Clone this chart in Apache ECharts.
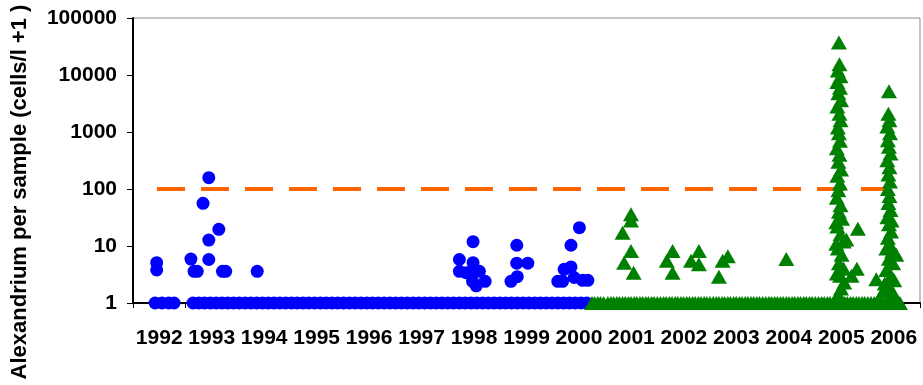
<!DOCTYPE html>
<html>
<head>
<meta charset="utf-8">
<script src="https://cdn.jsdelivr.net/npm/echarts@6/dist/echarts.min.js"></script>
<style>
  html, body { margin: 0; padding: 0; background: #fff; }
  #chart { width: 923px; height: 385px; }
</style>
</head>
<body>
<div id="chart"></div>
<script>
const years = ['1992', '1993', '1994', '1995', '1996', '1997', '1998', '1999',
  '2000', '2001', '2002', '2003', '2004', '2005', '2006'];
const yTicks = [1, 10, 100, 1000, 10000, 100000];
const threshold = 100;
const thresholdSpan = [1992.456, 2006.29];

// samples with no cells (plotted as 0 + 1)
const blueZeroDates = [
  1992.42, 1992.55, 1992.68, 1992.78,
  1993.14, 1993.25, 1993.36, 1993.47, 1993.58, 1993.69, 1993.80, 1993.91,
  1994.02, 1994.13, 1994.24, 1994.35, 1994.46, 1994.57, 1994.68, 1994.79, 1994.90,
  1995.01, 1995.12, 1995.23, 1995.34, 1995.45, 1995.56, 1995.67, 1995.78, 1995.89,
  1996.00, 1996.11, 1996.22, 1996.33, 1996.44, 1996.55, 1996.66, 1996.77, 1996.88, 1996.99,
  1997.10, 1997.21, 1997.32, 1997.43, 1997.54, 1997.65, 1997.76, 1997.87, 1997.98,
  1998.09, 1998.20, 1998.31, 1998.42, 1998.53, 1998.64, 1998.75, 1998.86, 1998.97,
  1999.08, 1999.19, 1999.30, 1999.41, 1999.52, 1999.63, 1999.74, 1999.85, 1999.96,
  2000.07, 2000.18, 2000.29, 2000.40, 2000.51, 2000.62
];
const greenZeroDates = [
  2000.72, 2000.77, 2000.83, 2000.88, 2000.94,
  2001.02, 2001.08, 2001.13, 2001.19, 2001.24, 2001.30, 2001.35, 2001.41, 2001.46,
  2001.52, 2001.57, 2001.63, 2001.68, 2001.74, 2001.79, 2001.85, 2001.90, 2001.96,
  2002.02, 2002.08, 2002.13, 2002.19, 2002.24, 2002.30, 2002.35, 2002.41, 2002.46,
  2002.52, 2002.57, 2002.63, 2002.68, 2002.74, 2002.79, 2002.85, 2002.90, 2002.96,
  2003.02, 2003.08, 2003.13, 2003.19, 2003.24, 2003.30, 2003.35, 2003.41, 2003.46,
  2003.52, 2003.57, 2003.63, 2003.68, 2003.74, 2003.79, 2003.85, 2003.90, 2003.96,
  2004.02, 2004.08, 2004.13, 2004.19, 2004.24, 2004.30, 2004.35, 2004.41, 2004.46,
  2004.52, 2004.57, 2004.63, 2004.68, 2004.74, 2004.79, 2004.85, 2004.90, 2004.96,
  2005.02, 2005.08, 2005.13, 2005.19, 2005.24, 2005.30, 2005.35, 2005.41, 2005.46,
  2005.52, 2005.57, 2005.63, 2005.68, 2005.74, 2005.79, 2005.85, 2005.90, 2005.96,
  2006.02, 2006.08, 2006.13, 2006.19, 2006.24, 2006.30, 2006.35, 2006.41, 2006.46,
  2006.52, 2006.57
];

// positive samples, 1992-2000 (blue circles)
const bluePositive = [
  [1992.45, 5.1], [1992.45, 3.8],
  [1993.10, 5.9], [1993.16, 3.6], [1993.22, 3.6], [1993.33, 56], [1993.44, 158],
  [1993.44, 12.7], [1993.44, 5.8], [1993.63, 19.6], [1993.70, 3.6], [1993.76, 3.6],
  [1994.36, 3.6],
  [1998.20, 5.8], [1998.20, 3.6], [1998.33, 3.4], [1998.46, 11.9], [1998.46, 5.1],
  [1998.43, 3.6], [1998.58, 3.6], [1998.45, 2.4], [1998.52, 2.0], [1998.69, 2.4],
  [1999.29, 10.3], [1999.29, 5.0], [1999.50, 5.0], [1999.30, 2.9], [1999.18, 2.4],
  [2000.48, 21], [2000.32, 10.3], [2000.32, 4.3], [2000.19, 3.9], [2000.07, 2.4],
  [2000.16, 2.4], [2000.38, 2.8], [2000.54, 2.5], [2000.64, 2.5]
];

// positive samples, 2001-2006 (green triangles)
const greenPositive = [
  [2001.46, 36], [2001.46, 28], [2001.30, 17], [2001.46, 8.2], [2001.33, 5.1], [2001.51, 3.4],
  [2002.25, 8.2], [2002.14, 5.5], [2002.25, 3.4], [2002.75, 8.2], [2002.60, 5.5], [2002.75, 4.8],
  [2003.30, 6.6], [2003.20, 5.5], [2003.13, 2.9],
  [2004.41, 5.9]
];
const bloom2005 = [
  [2005.41, 37000], [2005.42, 15500], [2005.39, 12000], [2005.44, 9500], [2005.38, 7500],
  [2005.43, 6000], [2005.40, 4800], [2005.45, 3600], [2005.38, 2800], [2005.42, 2100],
  [2005.44, 1600], [2005.39, 1200], [2005.41, 950], [2005.43, 700], [2005.37, 520],
  [2005.42, 400], [2005.40, 300], [2005.45, 220], [2005.38, 170], [2005.43, 125],
  [2005.40, 95], [2005.37, 70], [2005.44, 52], [2005.41, 40], [2005.47, 30],
  [2005.38, 22], [2005.44, 16], [2005.50, 12], [2005.39, 9], [2005.46, 7],
  [2005.41, 5], [2005.50, 4], [2005.43, 3], [2005.51, 2.3], [2005.45, 1.8],
  [2005.40, 1.4], [2005.36, 26], [2005.36, 11], [2005.37, 3.3],
  [2005.55, 13], [2005.77, 20], [2005.75, 4], [2005.65, 3]
];
const bloom2006 = [
  [2006.36, 5200], [2006.35, 2100], [2006.37, 1600], [2006.33, 1250], [2006.38, 950],
  [2006.34, 720], [2006.36, 550], [2006.39, 420], [2006.33, 320], [2006.37, 240],
  [2006.35, 180], [2006.38, 135], [2006.34, 100], [2006.37, 75], [2006.35, 57],
  [2006.39, 43], [2006.33, 32], [2006.36, 24], [2006.40, 18], [2006.34, 14],
  [2006.38, 10.5], [2006.42, 8], [2006.36, 6], [2006.44, 5], [2006.31, 3.8],
  [2006.40, 3], [2006.46, 2.5], [2006.28, 2.2], [2006.36, 1.8], [2006.44, 1.5],
  [2006.12, 2.6], [2006.50, 7], [2006.25, 1.6], [2006.41, 28], [2006.31, 9]
];

const font = 'Arial, "Liberation Sans", sans-serif';
const blueData = blueZeroDates.map((d) => [d, 1]).concat(bluePositive);
const greenData = greenZeroDates.map((d) => [d, 1]).concat(greenPositive, bloom2005, bloom2006);

const chart = echarts.init(document.getElementById('chart'));
chart.setOption({
  animation: false,
  grid: {
    left: 133, right: 3, top: 18, bottom: 82,
    show: true, borderColor: '#8c8c8c', borderWidth: 1
  },
  graphic: [{
    type: 'text',
    x: 20, y: 192,
    rotation: Math.PI / 2,
    style: {
      text: 'Alexandrium per sample (cells/l +1 )',
      font: 'bold 22px ' + font,
      fill: '#000',
      align: 'center',
      verticalAlign: 'middle'
    }
  }],
  xAxis: [{
    type: 'category',
    data: years,
    boundaryGap: true,
    axisLine: { lineStyle: { color: '#000', width: 2 } },
    axisTick: { show: true, length: 5, lineStyle: { color: '#000', width: 1 } },
    axisLabel: {
      color: '#000', fontWeight: 'bold', fontSize: 21, fontFamily: font,
      margin: 25, interval: 0
    },
    splitLine: { show: false }
  }, {
    type: 'value',
    min: 1992, max: 2006.95,
    show: false
  }],
  yAxis: {
    type: 'log',
    logBase: 10,
    min: yTicks[0],
    max: yTicks[yTicks.length - 1],
    axisLine: { show: true, lineStyle: { color: '#000', width: 2 } },
    axisTick: { show: true, length: 6, lineStyle: { color: '#000', width: 1 } },
    axisLabel: {
      color: '#000', fontWeight: 'bold', fontSize: 21, fontFamily: font, margin: 16,
      formatter: (v) => String(Math.round(v))
    },
    splitLine: { show: false },
    minorTick: { show: false }
  },
  series: [{
    type: 'line',
    xAxisIndex: 1,
    data: [[thresholdSpan[0], threshold], [thresholdSpan[1], threshold]],
    symbol: 'none',
    z: 1,
    lineStyle: { color: '#ff6600', width: 4, type: [28, 16] }
  }, {
    type: 'scatter',
    xAxisIndex: 1,
    data: blueData,
    symbol: 'circle',
    symbolSize: 13,
    clip: false,
    z: 3,
    itemStyle: { color: '#0000ff', opacity: 1 }
  }, {
    type: 'scatter',
    xAxisIndex: 1,
    data: greenData,
    symbol: 'triangle',
    symbolSize: [16, 14],
    clip: false,
    z: 4,
    itemStyle: { color: '#008000', opacity: 1 }
  }]
});
</script>
</body>
</html>
